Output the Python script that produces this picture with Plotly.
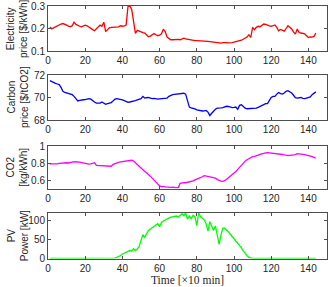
import plotly.graph_objects as go

time_idx = list(range(1, 145))

elec_price = [
    0.207, 0.198, 0.203, 0.208, 0.212, 0.216, 0.220, 0.222, 0.220, 0.215,
    0.210, 0.208, 0.212, 0.228, 0.218, 0.212, 0.210, 0.207, 0.212, 0.215,
    0.212, 0.205, 0.200, 0.195, 0.190, 0.198, 0.205, 0.215, 0.210, 0.228,
    0.186, 0.195, 0.203, 0.205, 0.205, 0.207, 0.205, 0.207, 0.212, 0.210,
    0.212, 0.215, 0.297, 0.300, 0.285, 0.220, 0.178, 0.192, 0.188, 0.185,
    0.182, 0.180, 0.172, 0.163, 0.166, 0.172, 0.178, 0.172, 0.168, 0.170,
    0.176, 0.197, 0.186, 0.162, 0.155, 0.150, 0.150, 0.151, 0.150, 0.152,
    0.150, 0.153, 0.157, 0.154, 0.152, 0.150, 0.149, 0.147, 0.146, 0.146,
    0.146, 0.145, 0.145, 0.145, 0.144, 0.143, 0.142, 0.141, 0.139, 0.137,
    0.136, 0.134, 0.135, 0.137, 0.138, 0.137, 0.136, 0.135, 0.137, 0.140,
    0.143, 0.145, 0.146, 0.148, 0.152, 0.156, 0.162, 0.172, 0.160, 0.205,
    0.195, 0.205, 0.210, 0.208, 0.215, 0.220, 0.218, 0.214, 0.212, 0.210,
    0.213, 0.216, 0.205, 0.190, 0.196, 0.192, 0.188, 0.200, 0.212, 0.205,
    0.198, 0.185, 0.175, 0.198, 0.182, 0.180, 0.177, 0.176, 0.168, 0.160,
    0.163, 0.162, 0.165, 0.180,
]

carbon_price = [
    71.5, 71.4, 71.3, 71.25, 71.2, 71.15, 70.9, 70.55, 70.45, 70.4,
    70.38, 70.35, 70.25, 70.1, 69.9, 69.7, 69.75, 69.8, 69.8, 69.82,
    69.85, 69.9, 69.85, 69.7, 69.6, 69.5, 69.48, 69.5, 69.6, 69.5,
    69.4, 69.45, 69.48, 69.55, 69.7, 69.85, 69.9, 69.88, 69.82, 69.78,
    69.72, 69.65, 69.58, 69.6, 69.62, 69.68, 69.72, 69.78, 69.82, 69.9,
    70.1, 69.95, 69.98, 70.0, 69.95, 69.9, 69.92, 69.88, 69.85, 69.88,
    69.9, 69.92, 69.9, 69.95, 70.1, 70.2, 70.25, 70.28, 70.3, 70.32,
    70.38, 70.4, 70.38, 70.3, 69.7, 69.15, 69.08, 69.05, 68.98, 68.9,
    68.85, 68.8, 68.8, 68.82, 68.85, 68.7, 68.4, 68.6, 68.8, 68.95,
    69.05, 69.1, 69.08, 69.1, 69.15, 69.22, 69.2, 69.15, 69.1, 69.12,
    69.15, 68.95, 69.3, 69.35, 69.2, 69.05, 69.0, 69.0, 69.02, 69.0,
    69.02, 69.05, 69.12, 69.2, 69.3, 69.42, 69.45, 69.45, 69.7, 70.0,
    70.1, 70.1, 70.3, 70.45, 70.35, 70.3, 70.4, 70.55, 70.6, 70.52,
    70.4, 70.2, 69.98, 69.95, 70.0, 70.0, 69.92, 69.9, 69.95, 70.0,
    70.05, 70.25, 70.4, 70.5,
]

co2_intensity = [
    0.790, 0.788, 0.790, 0.792, 0.790, 0.795, 0.798, 0.802, 0.805, 0.803,
    0.800, 0.802, 0.810, 0.815, 0.816, 0.814, 0.810, 0.805, 0.800, 0.792,
    0.788, 0.786, 0.790, 0.795, 0.803, 0.772, 0.770, 0.772, 0.768, 0.765,
    0.762, 0.758, 0.756, 0.762, 0.785, 0.795, 0.802, 0.808, 0.812, 0.815,
    0.820, 0.823, 0.825, 0.826, 0.832, 0.822, 0.800, 0.780, 0.760, 0.740,
    0.720, 0.700, 0.685, 0.668, 0.645, 0.622, 0.600, 0.578, 0.555, 0.530,
    0.522, 0.525, 0.518, 0.515, 0.518, 0.514, 0.515, 0.512, 0.515, 0.508,
    0.560, 0.568, 0.570, 0.568, 0.572, 0.575, 0.580, 0.590, 0.602, 0.610,
    0.615, 0.625, 0.638, 0.652, 0.648, 0.645, 0.642, 0.638, 0.630, 0.622,
    0.605, 0.592, 0.588, 0.585, 0.592, 0.610, 0.628, 0.645, 0.660, 0.675,
    0.700, 0.725, 0.752, 0.780, 0.805, 0.822, 0.838, 0.852, 0.865, 0.874,
    0.878, 0.882, 0.892, 0.902, 0.910, 0.916, 0.920, 0.922, 0.920, 0.916,
    0.914, 0.912, 0.910, 0.906, 0.904, 0.900, 0.895, 0.890, 0.888, 0.890,
    0.892, 0.894, 0.898, 0.910, 0.910, 0.906, 0.902, 0.898, 0.894, 0.888,
    0.882, 0.875, 0.866, 0.856,
]

pv_power = [
    0, 0, 0, 0, 0, 0, 0, 0, 0, 0,
    0, 0, 0, 0, 0, 0, 0, 0, 0, 0,
    0, 0, 0, 0, 0, 0, 0, 0, 0, 0,
    0, 0, 0, 0, 0, 1, 3, 5, 8, 12,
    14, 16, 18, 21, 20, 26, 21, 25, 32, 48,
    63, 56, 66, 74, 78, 81, 84, 88, 92, 84,
    95, 99, 102, 105, 107, 109, 110, 111, 112, 109,
    114, 118, 113, 120, 104, 112, 105, 114, 110, 87,
    120, 110, 106, 102, 92, 72, 97, 86, 74, 86,
    60, 37, 62, 80, 80, 76, 70, 64, 58, 52,
    46, 40, 36, 28, 20, 13, 7, 3, 1, 0,
    0, 0, 0, 0, 0, 0, 0, 0, 0, 0,
    0, 0, 0, 0, 0, 0, 0, 0, 0, 0,
    0, 0, 0, 0, 0, 0, 0, 0, 0, 0,
    0, 0, 0, 0,
]

x_ticks = [0, 20, 40, 60, 80, 100, 120, 140]
y_titles = ["Electricity<br>price [$/kWh]", "Carbon<br>price [$/tCO2]",
            "CO2<br>[kg/kWh]", "PV<br>Power [kW]"]
x_title = "Time [×10 min]"

W, H = 332, 287
panels = [
    # (series, color, yrange, yticks, top px, bottom px)
    (elec_price, "#FF0000", [0.1, 0.3], [0.1, 0.2, 0.3], 6, 51),
    (carbon_price, "#0000FF", [68, 72], [68, 70, 72], 75, 120),
    (co2_intensity, "#FF00FF", [0.5, 1.0], [0.6, 0.8, 1.0], 146, 188.5),
    (pv_power, "#00FF00", [0, 120], [0, 50, 100], 213, 258.5),
]

fig = go.Figure()
axcol = "#4d4d4d"
txtcol = "#262626"
tickfont = dict(family="Liberation Sans, Arial", size=10, color=txtcol)
layout = {}
annotations = []
for i, (ser, col, yr, yt, top, bot) in enumerate(panels):
    n = "" if i == 0 else str(i + 1)
    fig.add_trace(go.Scatter(x=time_idx, y=ser, mode="lines",
                             line=dict(color=col, width=1.3),
                             xaxis="x" + n, yaxis="y" + n, showlegend=False,
                             hoverinfo="skip"))
    xa = dict(domain=[48 / W, 327 / W], range=[0, 150], tickvals=x_ticks,
              showline=True, mirror="ticks", linecolor=axcol, linewidth=1,
              ticks="inside", ticklen=3, tickcolor=axcol, showgrid=False,
              zeroline=False, tickfont=tickfont, anchor="y" + n,
              automargin=False, ticklabeloverflow="allow")
    ya = dict(domain=[1 - bot / H, 1 - top / H], range=yr, tickvals=yt,
              showline=True, mirror="ticks", linecolor=axcol, linewidth=1,
              ticks="inside", ticklen=3, tickcolor=axcol, showgrid=False,
              zeroline=False, tickfont=tickfont, anchor="x" + n,
              automargin=False, ticklabeloverflow="allow")
    layout["xaxis" + n] = xa
    layout["yaxis" + n] = ya
    annotations.append(dict(text=y_titles[i], xref="paper", yref="paper",
                            x=17.5 / W, y=1 - (top + bot) / 2 / H,
                            xanchor="center", yanchor="middle", textangle=-90,
                            showarrow=False,
                            font=dict(family="Liberation Sans, Arial", size=10, color=txtcol)))

annotations.append(dict(text=x_title, xref="paper", yref="paper",
                        x=187 / W, y=1 - 280 / H, xanchor="center", yanchor="middle",
                        showarrow=False,
                        font=dict(family="Liberation Serif, Times New Roman", size=11.5, color=txtcol)))

fig.update_layout(width=W, height=H, margin=dict(l=0, r=0, t=0, b=0),
                  paper_bgcolor="white", plot_bgcolor="white",
                  annotations=annotations, **layout)
fig.write_html("out.html", config={"displayModeBar": False},
               post_script="document.body.style.margin='0';document.body.style.overflow='hidden';")
